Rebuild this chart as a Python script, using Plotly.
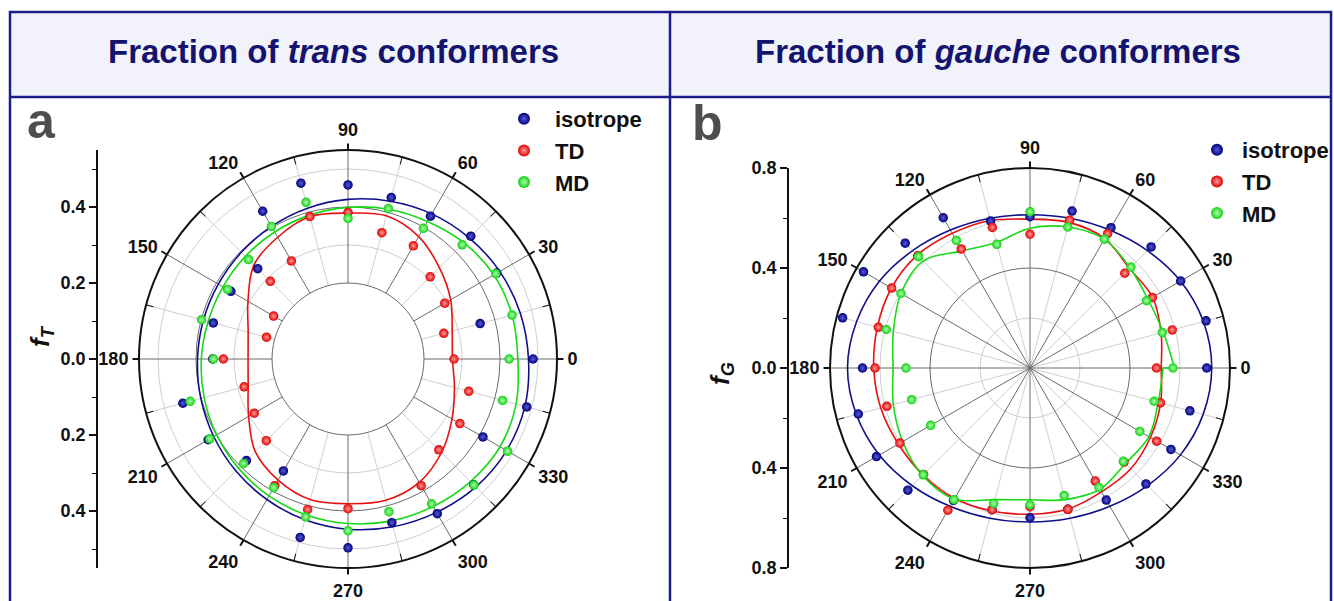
import plotly.graph_objects as go

W, H = 1334, 601

# ---------------------------------------------------------------- data
ANGLES = list(range(0, 360, 15))          # measurement angles (deg)
FIT_ANGLES = list(range(0, 361, 15))      # angles of the fitted curves

ANGLE_TICKS = list(range(0, 360, 30))
ANGLE_LABELS = [str(a) for a in ANGLE_TICKS]
ANGLE_MINOR = list(range(15, 360, 30))

SERIES = ["isotrope", "TD", "MD"]

# (a) fraction of trans conformers
TRANS_ISO = [0.487, 0.360, 0.452, 0.457, 0.434, 0.440, 0.458, 0.479, 0.449, 0.336, 0.356, 0.367,
             0.356, 0.450, 0.425, 0.378, 0.340, 0.486, 0.497, 0.446, 0.470, 0.468, 0.410, 0.487]
TRANS_TD = [0.279, 0.261, 0.294, 0.306, 0.344, 0.344, 0.386, 0.388, 0.298, 0.289, 0.226, 0.222,
            0.328, 0.283, 0.285, 0.304, 0.385, 0.410, 0.394, None, 0.385, 0.338, 0.340, 0.329]
TRANS_MD = [0.424, 0.447, 0.449, 0.425, 0.397, 0.410, 0.370, 0.427, 0.403, 0.370, 0.366, 0.399,
            0.354, 0.430, 0.420, 0.389, 0.391, 0.430, 0.452, 0.416, 0.440, 0.469, 0.485, 0.421]

TRANS_ISO_FIT = [0.475, 0.469, 0.461, 0.451, 0.441, 0.430, 0.420, 0.411, 0.403, 0.397, 0.394, 0.394,
                 0.396, 0.401, 0.408, 0.417, 0.427, 0.438, 0.448, 0.457, 0.466, 0.476, 0.482, 0.482, 0.475]
TRANS_TD_FIT = [0.275, 0.284, 0.312, 0.340, 0.372, 0.390, 0.384, 0.388, 0.370, 0.350, 0.304, 0.272,
                0.263, 0.272, 0.302, 0.345, 0.368, 0.383, 0.381, 0.385, 0.375, 0.348, 0.316, 0.290, 0.275]
TRANS_MD_FIT = [0.447, 0.447, 0.443, 0.432, 0.418, 0.408, 0.399, 0.392, 0.386, 0.382, 0.380, 0.381,
                0.386, 0.392, 0.399, 0.407, 0.416, 0.425, 0.433, 0.441, 0.448, 0.456, 0.462, 0.458, 0.447]

# (b) fraction of gauche conformers
GAUCHE_ISO = [0.707, 0.729, 0.696, 0.685, 0.648, 0.650, 0.605, 0.609, 0.694, 0.706, 0.769, 0.776,
              0.670, 0.711, 0.709, 0.691, 0.612, 0.587, 0.599, 0.585, 0.610, 0.656, 0.651, 0.662]
GAUCHE_TD = [0.506, 0.589, 0.565, 0.536, 0.621, 0.612, 0.535, 0.582, 0.550, 0.635, 0.639, 0.628,
             0.620, 0.593, 0.601, 0.602, 0.657, 0.587, 0.555, 0.585, 0.522, 0.532, 0.585, 0.540]
GAUCHE_MD = [0.572, 0.548, 0.538, 0.571, 0.595, 0.584, 0.625, 0.512, 0.589, 0.630, 0.596, 0.595,
             0.496, 0.490, 0.459, 0.604, 0.608, 0.561, 0.547, 0.528, 0.552, 0.528, 0.507, 0.514]

GAUCHE_ISO_FIT = [0.727, 0.718, 0.695, 0.664, 0.637, 0.620, 0.613, 0.620, 0.637, 0.664, 0.695, 0.718,
                  0.730, 0.719, 0.696, 0.666, 0.639, 0.622, 0.616, 0.622, 0.639, 0.665, 0.695, 0.717, 0.727]
GAUCHE_TD_FIT = [0.525, 0.543, 0.566, 0.563, 0.598, 0.603, 0.595, 0.611, 0.622, 0.638, 0.640, 0.632,
                 0.625, 0.618, 0.608, 0.605, 0.603, 0.592, 0.585, 0.584, 0.572, 0.570, 0.556, 0.541, 0.525]
GAUCHE_MD_FIT = [0.578, 0.552, 0.546, 0.566, 0.595, 0.584, 0.559, 0.520, 0.541, 0.605, 0.596, 0.566,
                 0.548, 0.566, 0.588, 0.608, 0.605, 0.545, 0.527, 0.545, 0.560, 0.540, 0.549, 0.531, 0.532]

# ---------------------------------------------------------------- style
FONT = "Liberation Sans, Arial, Helvetica, sans-serif"
NAVY = "#1c1c8a"
TITLE_COLOR = "#14146e"
COLORS = {"isotrope": ("#00007a", "#5a5ad8"),
          "TD": ("#e00000", "#ff9a9a"),
          "MD": ("#10d010", "#b0ffb0")}
LINE_COLORS = {"isotrope": "#10108a", "TD": "#e81010", "MD": "#18d818"}
GRID_DARK = "#6a6a6a"
GRID_LIGHT = "#cfcfcf"


def px_x(px):
    return px / W


def px_y(py):
    return 1 - py / H


fig = go.Figure()

panels = [
    dict(bottom="polar", top="polar2", labels="polar5", legend="legend",
         pts=[TRANS_ISO, TRANS_TD, TRANS_MD], fits=[TRANS_ISO_FIT, TRANS_TD_FIT, TRANS_MD_FIT]),
    dict(bottom="polar3", top="polar4", labels="polar6", legend="legend2",
         pts=[GAUCHE_ISO, GAUCHE_TD, GAUCHE_MD], fits=[GAUCHE_ISO_FIT, GAUCHE_TD_FIT, GAUCHE_MD_FIT]),
]

for p in panels:
    # empty traces keep the light-grid polar and the outline/label ring alive
    for sp in (p["bottom"], p["labels"]):
        fig.add_trace(go.Scatterpolar(r=[], theta=[], subplot=sp, showlegend=False,
                                      hoverinfo="skip"))
    for name, fit in zip(SERIES, p["fits"]):
        fig.add_trace(go.Scatterpolar(
            r=fit, theta=FIT_ANGLES, mode="lines", subplot=p["top"],
            line=dict(color=LINE_COLORS[name], width=1.6, shape="spline", smoothing=1.0),
            showlegend=False, hoverinfo="skip"))
        if fit[0] != fit[-1]:
            # the fitted curve does not close on itself at 0 deg
            fig.add_trace(go.Scatterpolar(
                r=[fit[-1], fit[0]], theta=[FIT_ANGLES[0], FIT_ANGLES[0]], mode="lines",
                subplot=p["top"], line=dict(color=LINE_COLORS[name], width=1.6),
                showlegend=False, hoverinfo="skip"))
    for name, vals in zip(SERIES, p["pts"]):
        base, light = COLORS[name]
        fig.add_trace(go.Scatterpolar(
            r=vals, theta=ANGLES, mode="markers", name=name, subplot=p["top"],
            legend=p["legend"],
            marker=dict(size=9.5, color=base, line=dict(width=0),
                        gradient=dict(type="radial", color=light))))

# dummy traces for the linear radial scales drawn at the left of each panel
fig.add_trace(go.Scatter(x=[None], y=[None], xaxis="x", yaxis="y", showlegend=False, hoverinfo="skip"))
fig.add_trace(go.Scatter(x=[None], y=[None], xaxis="x2", yaxis="y2", showlegend=False, hoverinfo="skip"))

tickfont = dict(family=FONT, size=18, color="#111111", weight="bold")


def polar_set(cx, cy, R, rmin, rmax, major_r, minor_r):
    dom = dict(x=[px_x(cx - R), px_x(cx + R)], y=[px_y(cy + R), px_y(cy - R)])
    # hole proportional to rmin keeps the radial scale linear from zero
    hole = rmin / rmax if rmin > 0 else 0
    bottom = dict(
        domain=dom, hole=hole, bgcolor="white",
        radialaxis=dict(range=[rmin, rmax], tickmode="array", tickvals=minor_r,
                        showticklabels=False, ticks="", showline=False,
                        gridcolor=GRID_LIGHT, gridwidth=1),
        angularaxis=dict(rotation=0, direction="counterclockwise", tickmode="array",
                         tickvals=ANGLE_MINOR, showticklabels=False, ticks="inside",
                         ticklen=7, tickwidth=1.3, tickcolor="#111111", showline=False,
                         gridcolor=GRID_LIGHT, gridwidth=1))
    top = dict(
        domain=dom, hole=hole, bgcolor="rgba(0,0,0,0)",
        radialaxis=dict(range=[rmin, rmax], tickmode="array", tickvals=major_r,
                        showticklabels=False, ticks="", showline=False,
                        gridcolor=GRID_DARK, gridwidth=1.2),
        angularaxis=dict(rotation=0, direction="counterclockwise", tickmode="array",
                         tickvals=ANGLE_TICKS, showticklabels=False, ticks="outside",
                         ticklen=6, tickwidth=1.5, tickcolor="#111111", showline=False,
                         gridcolor=GRID_DARK, gridwidth=1.2))
    # full disc on top: black outer circle, the inner limit circle and the angle labels
    inner = [rmin] if rmin > 0 else []
    labels = dict(
        domain=dom, bgcolor="rgba(0,0,0,0)",
        radialaxis=dict(range=[0, rmax], tickmode="array", tickvals=inner,
                        showticklabels=False, ticks="", showline=False,
                        showgrid=bool(inner), gridcolor=GRID_DARK, gridwidth=1.3),
        angularaxis=dict(rotation=0, direction="counterclockwise", tickmode="array",
                         tickvals=ANGLE_TICKS, ticktext=ANGLE_LABELS, ticks="outside",
                         ticklen=6, tickcolor="rgba(0,0,0,0)", showline=True,
                         linecolor="#111111", linewidth=2, showgrid=False, tickfont=tickfont))
    return bottom, top, labels


pa_bottom, pa_top, pa_labels = polar_set(348, 359, 209, 0.2, 0.55, [0.2, 0.4], [0.3, 0.5])
pb_bottom, pb_top, pb_labels = polar_set(1030, 368, 200, 0.0, 0.8, [0.4], [0.2, 0.6])


def side_axis(cx, cy, R, lim, major, minor, pos):
    return dict(anchor="free", position=px_x(pos), domain=[px_y(cy + R), px_y(cy - R)],
                range=[-lim, lim], tickmode="array", tickvals=[-v for v in major[::-1]] + [0] + major,
                ticktext=[f"{v:.1f}" for v in major[::-1]] + ["0.0"] + [f"{v:.1f}" for v in major],
                ticks="outside", ticklen=7, tickwidth=1.5, tickcolor="#111111",
                showline=True, linecolor="#111111", linewidth=1.5, showgrid=False,
                zeroline=False, tickfont=tickfont,
                minor=dict(tickmode="array", tickvals=[-v for v in minor] + minor,
                           ticks="outside", ticklen=4, tickwidth=1.3, tickcolor="#111111",
                           showgrid=False))


ya = side_axis(348, 359, 209, 0.55, [0.2, 0.4], [0.1, 0.3, 0.5], 97)
yb = side_axis(1030, 368, 200, 0.8, [0.4, 0.8], [0.2, 0.6], 788)

legend_common = dict(font=dict(family=FONT, size=22, color="#111111", weight="bold"),
                     bgcolor="rgba(0,0,0,0)", borderwidth=0, xanchor="left", yanchor="top",
                     itemsizing="constant", tracegroupgap=0)

shapes = [
    # header band
    dict(type="rect", xref="paper", yref="paper", x0=px_x(10), x1=px_x(1331),
         y0=px_y(97), y1=px_y(12), fillcolor="#f2f2fb", line=dict(width=0), layer="below"),
    # frame
    dict(type="rect", xref="paper", yref="paper", x0=px_x(10), x1=px_x(1331),
         y0=px_y(610), y1=px_y(12), line=dict(color=NAVY, width=2.5)),
    dict(type="line", xref="paper", yref="paper", x0=px_x(10), x1=px_x(1331),
         y0=px_y(97), y1=px_y(97), line=dict(color=NAVY, width=2.5)),
    dict(type="line", xref="paper", yref="paper", x0=px_x(670), x1=px_x(670),
         y0=px_y(12), y1=px_y(610), line=dict(color=NAVY, width=2.5)),
]

title_font = dict(family=FONT, size=33, color=TITLE_COLOR, weight="bold")
letter_font = dict(family=FONT, size=50, color="#4e4e4e", weight="bold")
axis_title_font = dict(family=FONT, size=26, color="#111111", weight="bold")

annotations = [
    dict(text="Fraction of <i>trans</i> conformers", x=px_x(333), y=px_y(51), font=title_font),
    dict(text="Fraction of <i>gauche</i> conformers", x=px_x(998), y=px_y(51), font=title_font),
    dict(text="a", x=px_x(41), y=px_y(121), font=letter_font),
    dict(text="b", x=px_x(707), y=px_y(123), font=letter_font),
    dict(text="<i>f</i><sub><i>T</i></sub>", x=px_x(42), y=px_y(336), textangle=-90,
         font=axis_title_font),
    dict(text="<i>f</i><sub><i>G</i></sub>", x=px_x(721), y=px_y(374), textangle=-90,
         font=axis_title_font),
]
for a in annotations:
    a.update(xref="paper", yref="paper", showarrow=False, xanchor="center", yanchor="middle")

fig.update_layout(
    width=W, height=H, autosize=False,
    margin=dict(l=0, r=0, t=0, b=0, autoexpand=False),
    paper_bgcolor="white", plot_bgcolor="rgba(0,0,0,0)",
    polar=pa_bottom, polar2=pa_top, polar3=pb_bottom, polar4=pb_top,
    polar5=pa_labels, polar6=pb_labels,
    xaxis=dict(domain=[px_x(60), px_x(100)], range=[0, 1], visible=False),
    xaxis2=dict(domain=[px_x(750), px_x(790)], range=[0, 1], visible=False),
    yaxis=ya, yaxis2=yb,
    legend=dict(x=px_x(493), y=px_y(98), itemwidth=52, **legend_common),
    legend2=dict(x=px_x(1192), y=px_y(129), itemwidth=40, **legend_common),
    shapes=shapes, annotations=annotations,
    showlegend=True,
)

fig.write_html("out.html")
